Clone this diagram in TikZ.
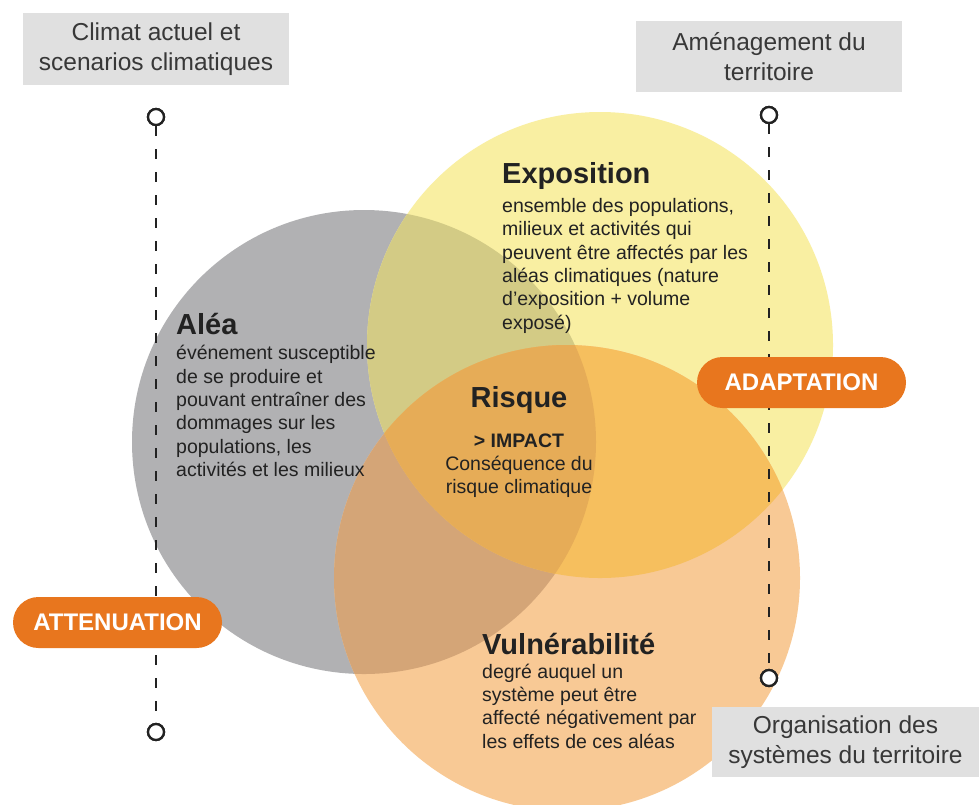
\documentclass[tikz,border=0pt]{standalone}
\usepackage{fontspec}
\setmainfont{Liberation Sans}
\definecolor{cG}{HTML}{B1B1B3}
\definecolor{cY}{HTML}{F9EFA2}
\definecolor{cO}{HTML}{F8C995}
\definecolor{cGY}{HTML}{D3CB85}
\definecolor{cGO}{HTML}{D4A577}
\definecolor{cYO}{HTML}{F6BF5E}
\definecolor{cGYO}{HTML}{E6AC57}
\definecolor{pill}{HTML}{E8761E}
\definecolor{boxgrey}{HTML}{E0E0E0}
\definecolor{ink}{HTML}{222222}
\newcommand\bodyfnt{\fontsize{19.5}{23.3}\selectfont}
\newcommand\titlefnt{\fontsize{29}{30}\selectfont\bfseries}
\newcommand\labelfnt{\fontsize{24.5}{29.5}\selectfont}
\tikzset{
  labelbox/.style={fill=boxgrey, text=ink!90, font=\labelfnt, align=center, inner sep=0pt, minimum width=266pt},
  pillbox/.style={fill=pill, text=white, font=\fontsize{24}{26}\selectfont\bfseries, rounded corners=25.5pt, minimum width=209pt, minimum height=51pt, inner sep=0pt},
  marker/.style={circle, draw=ink, fill=white, line width=2.3pt, minimum size=16pt, inner sep=0pt},
  dashline/.style={draw=ink, line width=2.4pt, dash pattern=on 10pt off 13pt},
  blocktxt/.style={text=ink, font=\bodyfnt, align=left, inner sep=0pt},
}
\begin{document}
\begin{tikzpicture}[x=1pt, y=-1pt]
\clip (0,0) rectangle (979,804);
\fill[white] (0,0) rectangle (979,804);
% circle centres
\coordinate (cg) at (364,442);
\coordinate (cy) at (600,345);
\coordinate (co) at (567,578);
\def\rG{232pt}\def\rY{233pt}\def\rO{233pt}
\fill[cG] (cg) circle (\rG);
\fill[cY] (cy) circle (\rY);
\fill[cO] (co) circle (\rO);
\begin{scope}\clip (cg) circle (\rG); \fill[cGY] (cy) circle (\rY);\end{scope}
\begin{scope}\clip (cg) circle (\rG); \fill[cGO] (co) circle (\rO);\end{scope}
\begin{scope}\clip (cy) circle (\rY); \fill[cYO] (co) circle (\rO);\end{scope}
\begin{scope}\clip (cg) circle (\rG); \clip (cy) circle (\rY); \fill[cGYO] (co) circle (\rO);\end{scope}
% label boxes
\node[labelbox, minimum height=72pt] (clim) at (156,49) {Climat actuel et\\scenarios climatiques};
\node[labelbox, minimum height=71pt] (amen) at (769,56.5) {Aménagement du\\territoire};
\node[labelbox, minimum height=70pt, minimum width=267pt] (orga) at (845.5,742) {Organisation des\\systèmes du territoire};
% markers and dashed lines
\node[marker] (lt) at (156,117) {};
\node[marker] (lb) at (156,732) {};
\node[marker] (rt) at (769,115) {};
\node[marker] (rb) at (769,678) {};
\draw[dashline] (lt) -- (lb);
\draw[dashline] (rt) -- (rb);
% pills
\node[pillbox] (att) at (117.5,622.5) {ATTENUATION};
\node[pillbox] (ada) at (801.5,382.5) {ADAPTATION};
% redraw markers on top
\node[marker] at (lt) {};
\node[marker] at (lb) {};
\node[marker] at (rt) {};
\node[marker] at (rb) {};
% text blocks
\node[blocktxt, anchor=north west] (expo) at (502,162) {{\titlefnt Exposition}\\[6pt]
ensemble des populations,\\milieux et activités qui\\peuvent être affectés par les\\aléas climatiques (nature\\d’exposition + volume\\exposé)};
\node[blocktxt, anchor=north west] (alea) at (176,313.5) {{\titlefnt Aléa}\\[1.7pt]
événement susceptible\\de se produire et\\pouvant entraîner des\\dommages sur les\\populations, les\\activités et les milieux};
\node[blocktxt, align=center, anchor=north] (risq) at (519,386) {{\titlefnt Risque}\\[16.7pt]
{\bfseries >\ IMPACT}\\Conséquence du\\risque climatique};
\node[blocktxt, anchor=north west] (vuln) at (482,633.5) {{\titlefnt Vulnérabilité}\\
degré auquel un\\système peut être\\affecté négativement par\\les effets de ces aléas};
\end{tikzpicture}
\end{document}
